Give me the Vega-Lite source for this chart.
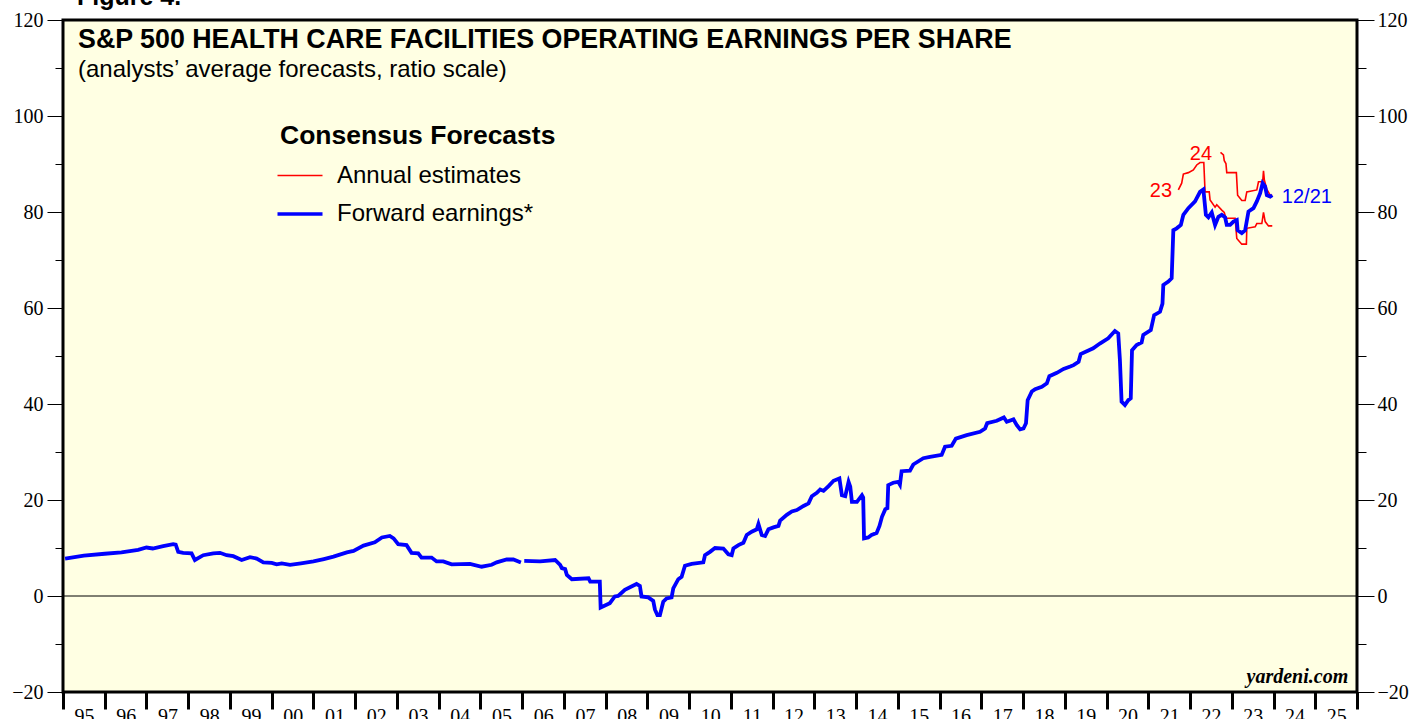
{
  "$schema": "https://vega.github.io/schema/vega-lite/v6.json",
  "width": 1294,
  "height": 672,
  "autosize": {"type": "none"},
  "padding": {"left": 63, "top": 20, "right": 57, "bottom": 27},
  "background": "white",
  "config": {
    "view": {"stroke": "black", "strokeWidth": 3, "fill": "#FFFFE3"},
    "axis": {"grid": false, "domain": false, "tickColor": "black", "labelColor": "black", "labelFont": "Liberation Serif", "labelFontSize": 20, "title": null},
    "axisX": {"values": [1995,1996,1997,1998,1999,2000,2001,2002,2003,2004,2005,2006,2007,2008,2009,2010,2011,2012,2013,2014,2015,2016,2017,2018,2019,2020,2021,2022,2023,2024,2025,2026],
      "labelExpr": "datum.value < 2026 ? format(datum.value % 100, '02d') : ''",
      "tickSize": 17, "tickWidth": 3, "labelOffset": 21, "labelPadding": -3, "labelBound": false, "labelFlush": false, "labelOverlap": false, "labelBaseline": "top"},
    "text": {"font": "Liberation Sans", "color": "black"}
  },
  "datasets": {
    "fwd": [
      {"t":1995.05,"v":7.8,"s":"Forward earnings*","g":1},{"t":1995.5,"v":8.4,"s":"Forward earnings*","g":1},{"t":1996.0,"v":8.8,"s":"Forward earnings*","g":1},{"t":1996.4,"v":9.1,"s":"Forward earnings*","g":1},{"t":1996.8,"v":9.6,"s":"Forward earnings*","g":1},{"t":1997.0,"v":10.1,"s":"Forward earnings*","g":1},{"t":1997.15,"v":9.9,"s":"Forward earnings*","g":1},{"t":1997.4,"v":10.4,"s":"Forward earnings*","g":1},{"t":1997.64,"v":10.8,"s":"Forward earnings*","g":1},{"t":1997.7,"v":10.7,"s":"Forward earnings*","g":1},{"t":1997.76,"v":9.2,"s":"Forward earnings*","g":1},{"t":1997.88,"v":9.0,"s":"Forward earnings*","g":1},{"t":1998.08,"v":8.9,"s":"Forward earnings*","g":1},{"t":1998.16,"v":7.5,"s":"Forward earnings*","g":1},{"t":1998.36,"v":8.5,"s":"Forward earnings*","g":1},{"t":1998.6,"v":8.9,"s":"Forward earnings*","g":1},{"t":1998.76,"v":9.0,"s":"Forward earnings*","g":1},{"t":1998.92,"v":8.5,"s":"Forward earnings*","g":1},{"t":1999.08,"v":8.3,"s":"Forward earnings*","g":1},{"t":1999.28,"v":7.5,"s":"Forward earnings*","g":1},{"t":1999.48,"v":8.1,"s":"Forward earnings*","g":1},{"t":1999.64,"v":7.8,"s":"Forward earnings*","g":1},{"t":1999.8,"v":7.0,"s":"Forward earnings*","g":1},{"t":2000.0,"v":6.9,"s":"Forward earnings*","g":1},{"t":2000.12,"v":6.6,"s":"Forward earnings*","g":1},{"t":2000.24,"v":6.8,"s":"Forward earnings*","g":1},{"t":2000.44,"v":6.5,"s":"Forward earnings*","g":1},{"t":2000.7,"v":6.8,"s":"Forward earnings*","g":1},{"t":2001.0,"v":7.2,"s":"Forward earnings*","g":1},{"t":2001.25,"v":7.7,"s":"Forward earnings*","g":1},{"t":2001.48,"v":8.2,"s":"Forward earnings*","g":1},{"t":2001.8,"v":9.1,"s":"Forward earnings*","g":1},{"t":2001.96,"v":9.4,"s":"Forward earnings*","g":1},{"t":2002.2,"v":10.5,"s":"Forward earnings*","g":1},{"t":2002.47,"v":11.2,"s":"Forward earnings*","g":1},{"t":2002.64,"v":12.2,"s":"Forward earnings*","g":1},{"t":2002.83,"v":12.5,"s":"Forward earnings*","g":1},{"t":2002.92,"v":12.0,"s":"Forward earnings*","g":1},{"t":2003.03,"v":10.8,"s":"Forward earnings*","g":1},{"t":2003.23,"v":10.6,"s":"Forward earnings*","g":1},{"t":2003.35,"v":9.0,"s":"Forward earnings*","g":1},{"t":2003.51,"v":8.9,"s":"Forward earnings*","g":1},{"t":2003.59,"v":8.0,"s":"Forward earnings*","g":1},{"t":2003.83,"v":8.0,"s":"Forward earnings*","g":1},{"t":2003.95,"v":7.2,"s":"Forward earnings*","g":1},{"t":2004.11,"v":7.2,"s":"Forward earnings*","g":1},{"t":2004.31,"v":6.6,"s":"Forward earnings*","g":1},{"t":2004.75,"v":6.7,"s":"Forward earnings*","g":1},{"t":2005.03,"v":6.1,"s":"Forward earnings*","g":1},{"t":2005.27,"v":6.5,"s":"Forward earnings*","g":1},{"t":2005.39,"v":7.0,"s":"Forward earnings*","g":1},{"t":2005.63,"v":7.6,"s":"Forward earnings*","g":1},{"t":2005.79,"v":7.6,"s":"Forward earnings*","g":1},{"t":2005.97,"v":7.0,"s":"Forward earnings*","g":1},
      {"t":2006.05,"v":7.3,"s":"Forward earnings*","g":2},{"t":2006.43,"v":7.2,"s":"Forward earnings*","g":2},{"t":2006.79,"v":7.5,"s":"Forward earnings*","g":2},{"t":2006.91,"v":6.5,"s":"Forward earnings*","g":2},{"t":2006.95,"v":5.8,"s":"Forward earnings*","g":2},{"t":2007.03,"v":5.6,"s":"Forward earnings*","g":2},{"t":2007.07,"v":4.4,"s":"Forward earnings*","g":2},{"t":2007.19,"v":3.5,"s":"Forward earnings*","g":2},{"t":2007.59,"v":3.7,"s":"Forward earnings*","g":2},{"t":2007.63,"v":3.0,"s":"Forward earnings*","g":2},{"t":2007.86,"v":3.0,"s":"Forward earnings*","g":2},{"t":2007.88,"v":-2.4,"s":"Forward earnings*","g":2},{"t":2008.1,"v":-1.5,"s":"Forward earnings*","g":2},{"t":2008.22,"v":-0.1,"s":"Forward earnings*","g":2},{"t":2008.3,"v":0.0,"s":"Forward earnings*","g":2},{"t":2008.46,"v":1.3,"s":"Forward earnings*","g":2},{"t":2008.74,"v":2.5,"s":"Forward earnings*","g":2},{"t":2008.82,"v":2.1,"s":"Forward earnings*","g":2},{"t":2008.86,"v":-0.1,"s":"Forward earnings*","g":2},{"t":2009.02,"v":-0.3,"s":"Forward earnings*","g":2},{"t":2009.14,"v":-1.0,"s":"Forward earnings*","g":2},{"t":2009.18,"v":-2.8,"s":"Forward earnings*","g":2},{"t":2009.24,"v":-4.0,"s":"Forward earnings*","g":2},{"t":2009.3,"v":-4.0,"s":"Forward earnings*","g":2},{"t":2009.38,"v":-1.2,"s":"Forward earnings*","g":2},{"t":2009.46,"v":-0.5,"s":"Forward earnings*","g":2},{"t":2009.58,"v":-0.3,"s":"Forward earnings*","g":2},{"t":2009.62,"v":1.6,"s":"Forward earnings*","g":2},{"t":2009.74,"v":3.5,"s":"Forward earnings*","g":2},{"t":2009.82,"v":4.0,"s":"Forward earnings*","g":2},{"t":2009.9,"v":6.3,"s":"Forward earnings*","g":2},{"t":2010.06,"v":6.7,"s":"Forward earnings*","g":2},{"t":2010.34,"v":7.0,"s":"Forward earnings*","g":2},{"t":2010.38,"v":8.5,"s":"Forward earnings*","g":2},{"t":2010.5,"v":9.2,"s":"Forward earnings*","g":2},{"t":2010.62,"v":10.0,"s":"Forward earnings*","g":2},{"t":2010.82,"v":9.9,"s":"Forward earnings*","g":2},{"t":2010.94,"v":8.7,"s":"Forward earnings*","g":2},{"t":2011.02,"v":8.5,"s":"Forward earnings*","g":2},{"t":2011.06,"v":9.9,"s":"Forward earnings*","g":2},{"t":2011.18,"v":10.6,"s":"Forward earnings*","g":2},{"t":2011.3,"v":11.1,"s":"Forward earnings*","g":2},{"t":2011.38,"v":12.7,"s":"Forward earnings*","g":2},{"t":2011.5,"v":13.4,"s":"Forward earnings*","g":2},{"t":2011.62,"v":13.9,"s":"Forward earnings*","g":2},{"t":2011.66,"v":15.0,"s":"Forward earnings*","g":2},{"t":2011.74,"v":12.7,"s":"Forward earnings*","g":2},{"t":2011.82,"v":12.5,"s":"Forward earnings*","g":2},{"t":2011.9,"v":13.9,"s":"Forward earnings*","g":2},{"t":2012.02,"v":14.3,"s":"Forward earnings*","g":2},{"t":2012.14,"v":14.6,"s":"Forward earnings*","g":2},{"t":2012.18,"v":15.7,"s":"Forward earnings*","g":2},{"t":2012.34,"v":16.9,"s":"Forward earnings*","g":2},{"t":2012.46,"v":17.6,"s":"Forward earnings*","g":2},{"t":2012.58,"v":17.9,"s":"Forward earnings*","g":2},{"t":2012.74,"v":18.75,"s":"Forward earnings*","g":2},{"t":2012.86,"v":19.3,"s":"Forward earnings*","g":2},{"t":2012.94,"v":20.8,"s":"Forward earnings*","g":2},{"t":2013.06,"v":21.5,"s":"Forward earnings*","g":2},{"t":2013.14,"v":22.2,"s":"Forward earnings*","g":2},{"t":2013.22,"v":21.9,"s":"Forward earnings*","g":2},{"t":2013.34,"v":22.9,"s":"Forward earnings*","g":2},{"t":2013.46,"v":24.0,"s":"Forward earnings*","g":2},{"t":2013.6,"v":24.5,"s":"Forward earnings*","g":2},{"t":2013.66,"v":21.0,"s":"Forward earnings*","g":2},{"t":2013.74,"v":20.8,"s":"Forward earnings*","g":2},{"t":2013.82,"v":23.8,"s":"Forward earnings*","g":2},{"t":2013.86,"v":22.8,"s":"Forward earnings*","g":2},{"t":2013.9,"v":19.6,"s":"Forward earnings*","g":2},{"t":2014.02,"v":19.6,"s":"Forward earnings*","g":2},{"t":2014.14,"v":21.0,"s":"Forward earnings*","g":2},{"t":2014.17,"v":20.5,"s":"Forward earnings*","g":2},{"t":2014.19,"v":12.0,"s":"Forward earnings*","g":2},{"t":2014.29,"v":12.2,"s":"Forward earnings*","g":2},{"t":2014.37,"v":12.7,"s":"Forward earnings*","g":2},{"t":2014.49,"v":13.1,"s":"Forward earnings*","g":2},{"t":2014.56,"v":14.6,"s":"Forward earnings*","g":2},{"t":2014.62,"v":16.5,"s":"Forward earnings*","g":2},{"t":2014.7,"v":18.1,"s":"Forward earnings*","g":2},{"t":2014.75,"v":18.3,"s":"Forward earnings*","g":2},{"t":2014.77,"v":23.1,"s":"Forward earnings*","g":2},{"t":2014.89,"v":23.6,"s":"Forward earnings*","g":2},{"t":2015.01,"v":23.8,"s":"Forward earnings*","g":2},{"t":2015.05,"v":23.2,"s":"Forward earnings*","g":2},{"t":2015.09,"v":26.0,"s":"Forward earnings*","g":2},{"t":2015.29,"v":26.1,"s":"Forward earnings*","g":2},{"t":2015.37,"v":27.4,"s":"Forward earnings*","g":2},{"t":2015.61,"v":28.7,"s":"Forward earnings*","g":2},{"t":2015.77,"v":29.0,"s":"Forward earnings*","g":2},{"t":2016.05,"v":29.4,"s":"Forward earnings*","g":2},{"t":2016.13,"v":31.1,"s":"Forward earnings*","g":2},{"t":2016.29,"v":31.3,"s":"Forward earnings*","g":2},{"t":2016.39,"v":32.8,"s":"Forward earnings*","g":2},{"t":2016.65,"v":33.5,"s":"Forward earnings*","g":2},{"t":2016.97,"v":34.2,"s":"Forward earnings*","g":2},{"t":2017.09,"v":34.9,"s":"Forward earnings*","g":2},{"t":2017.14,"v":36.0,"s":"Forward earnings*","g":2},{"t":2017.37,"v":36.5,"s":"Forward earnings*","g":2},{"t":2017.54,"v":37.2,"s":"Forward earnings*","g":2},{"t":2017.61,"v":36.3,"s":"Forward earnings*","g":2},{"t":2017.77,"v":36.8,"s":"Forward earnings*","g":2},{"t":2017.85,"v":35.6,"s":"Forward earnings*","g":2},{"t":2017.93,"v":34.7,"s":"Forward earnings*","g":2},{"t":2018.01,"v":34.9,"s":"Forward earnings*","g":2},{"t":2018.07,"v":36.0,"s":"Forward earnings*","g":2},{"t":2018.11,"v":40.8,"s":"Forward earnings*","g":2},{"t":2018.21,"v":42.6,"s":"Forward earnings*","g":2},{"t":2018.29,"v":43.1,"s":"Forward earnings*","g":2},{"t":2018.45,"v":43.6,"s":"Forward earnings*","g":2},{"t":2018.57,"v":44.3,"s":"Forward earnings*","g":2},{"t":2018.63,"v":45.8,"s":"Forward earnings*","g":2},{"t":2018.81,"v":46.5,"s":"Forward earnings*","g":2},{"t":2018.97,"v":47.3,"s":"Forward earnings*","g":2},{"t":2019.13,"v":47.8,"s":"Forward earnings*","g":2},{"t":2019.21,"v":48.1,"s":"Forward earnings*","g":2},{"t":2019.33,"v":48.8,"s":"Forward earnings*","g":2},{"t":2019.38,"v":50.4,"s":"Forward earnings*","g":2},{"t":2019.68,"v":51.6,"s":"Forward earnings*","g":2},{"t":2019.84,"v":52.6,"s":"Forward earnings*","g":2},{"t":2020.04,"v":53.7,"s":"Forward earnings*","g":2},{"t":2020.2,"v":55.2,"s":"Forward earnings*","g":2},{"t":2020.28,"v":54.7,"s":"Forward earnings*","g":2},{"t":2020.32,"v":49.2,"s":"Forward earnings*","g":2},{"t":2020.36,"v":40.5,"s":"Forward earnings*","g":2},{"t":2020.44,"v":39.8,"s":"Forward earnings*","g":2},{"t":2020.52,"v":40.8,"s":"Forward earnings*","g":2},{"t":2020.58,"v":41.2,"s":"Forward earnings*","g":2},{"t":2020.61,"v":51.2,"s":"Forward earnings*","g":2},{"t":2020.72,"v":52.3,"s":"Forward earnings*","g":2},{"t":2020.84,"v":52.8,"s":"Forward earnings*","g":2},{"t":2020.88,"v":54.4,"s":"Forward earnings*","g":2},{"t":2021.06,"v":55.4,"s":"Forward earnings*","g":2},{"t":2021.14,"v":58.5,"s":"Forward earnings*","g":2},{"t":2021.28,"v":59.2,"s":"Forward earnings*","g":2},{"t":2021.34,"v":60.9,"s":"Forward earnings*","g":2},{"t":2021.36,"v":64.8,"s":"Forward earnings*","g":2},{"t":2021.48,"v":65.5,"s":"Forward earnings*","g":2},{"t":2021.56,"v":66.2,"s":"Forward earnings*","g":2},{"t":2021.6,"v":76.2,"s":"Forward earnings*","g":2},{"t":2021.68,"v":76.6,"s":"Forward earnings*","g":2},{"t":2021.78,"v":77.3,"s":"Forward earnings*","g":2},{"t":2021.84,"v":79.4,"s":"Forward earnings*","g":2},{"t":2021.96,"v":80.8,"s":"Forward earnings*","g":2},{"t":2022.12,"v":82.2,"s":"Forward earnings*","g":2},{"t":2022.24,"v":84.2,"s":"Forward earnings*","g":2},{"t":2022.32,"v":84.7,"s":"Forward earnings*","g":2},{"t":2022.38,"v":79.4,"s":"Forward earnings*","g":2},{"t":2022.44,"v":78.9,"s":"Forward earnings*","g":2},{"t":2022.52,"v":79.9,"s":"Forward earnings*","g":2},{"t":2022.6,"v":77.3,"s":"Forward earnings*","g":2},{"t":2022.68,"v":79.0,"s":"Forward earnings*","g":2},{"t":2022.76,"v":79.4,"s":"Forward earnings*","g":2},{"t":2022.84,"v":78.9,"s":"Forward earnings*","g":2},{"t":2022.88,"v":77.3,"s":"Forward earnings*","g":2},{"t":2022.96,"v":77.3,"s":"Forward earnings*","g":2},{"t":2023.04,"v":78.0,"s":"Forward earnings*","g":2},{"t":2023.12,"v":78.3,"s":"Forward earnings*","g":2},{"t":2023.14,"v":76.2,"s":"Forward earnings*","g":2},{"t":2023.24,"v":75.6,"s":"Forward earnings*","g":2},{"t":2023.32,"v":76.2,"s":"Forward earnings*","g":2},{"t":2023.4,"v":80.1,"s":"Forward earnings*","g":2},{"t":2023.52,"v":80.8,"s":"Forward earnings*","g":2},{"t":2023.6,"v":82.2,"s":"Forward earnings*","g":2},{"t":2023.68,"v":83.9,"s":"Forward earnings*","g":2},{"t":2023.74,"v":86.0,"s":"Forward earnings*","g":2},{"t":2023.8,"v":85.3,"s":"Forward earnings*","g":2},{"t":2023.84,"v":83.5,"s":"Forward earnings*","g":2},{"t":2023.92,"v":83.2,"s":"Forward earnings*","g":2},{"t":2023.97,"v":83.5,"s":"Forward earnings*","g":2}
    ],
    "est": [
      {"t":2021.72,"v":84.6,"s":"Annual estimates","g":"23"},{"t":2021.8,"v":86.0,"s":"Annual estimates","g":"23"},{"t":2021.84,"v":87.9,"s":"Annual estimates","g":"23"},{"t":2021.96,"v":88.2,"s":"Annual estimates","g":"23"},{"t":2022.08,"v":88.75,"s":"Annual estimates","g":"23"},{"t":2022.16,"v":89.8,"s":"Annual estimates","g":"23"},{"t":2022.24,"v":90.3,"s":"Annual estimates","g":"23"},{"t":2022.33,"v":90.3,"s":"Annual estimates","g":"23"},{"t":2022.36,"v":84.2,"s":"Annual estimates","g":"23"},{"t":2022.46,"v":84.2,"s":"Annual estimates","g":"23"},{"t":2022.48,"v":82.5,"s":"Annual estimates","g":"23"},{"t":2022.6,"v":81.0,"s":"Annual estimates","g":"23"},{"t":2022.64,"v":81.5,"s":"Annual estimates","g":"23"},{"t":2022.76,"v":80.4,"s":"Annual estimates","g":"23"},{"t":2022.82,"v":79.9,"s":"Annual estimates","g":"23"},{"t":2022.86,"v":78.7,"s":"Annual estimates","g":"23"},{"t":2023.08,"v":78.7,"s":"Annual estimates","g":"23"},{"t":2023.12,"v":74.5,"s":"Annual estimates","g":"23"},{"t":2023.24,"v":73.3,"s":"Annual estimates","g":"23"},{"t":2023.35,"v":73.3,"s":"Annual estimates","g":"23"},{"t":2023.36,"v":76.6,"s":"Annual estimates","g":"23"},{"t":2023.56,"v":76.9,"s":"Annual estimates","g":"23"},{"t":2023.6,"v":77.6,"s":"Annual estimates","g":"23"},{"t":2023.72,"v":77.6,"s":"Annual estimates","g":"23"},{"t":2023.76,"v":79.9,"s":"Annual estimates","g":"23"},{"t":2023.8,"v":78.0,"s":"Annual estimates","g":"23"},{"t":2023.88,"v":77.1,"s":"Annual estimates","g":"23"},{"t":2023.97,"v":77.1,"s":"Annual estimates","g":"23"},
      {"t":2022.73,"v":92.4,"s":"Annual estimates","g":"24"},{"t":2022.8,"v":91.9,"s":"Annual estimates","g":"24"},{"t":2022.82,"v":90.7,"s":"Annual estimates","g":"24"},{"t":2022.86,"v":90.1,"s":"Annual estimates","g":"24"},{"t":2022.88,"v":88.2,"s":"Annual estimates","g":"24"},{"t":2023.11,"v":88.2,"s":"Annual estimates","g":"24"},{"t":2023.14,"v":83.5,"s":"Annual estimates","g":"24"},{"t":2023.24,"v":82.4,"s":"Annual estimates","g":"24"},{"t":2023.32,"v":82.4,"s":"Annual estimates","g":"24"},{"t":2023.36,"v":84.2,"s":"Annual estimates","g":"24"},{"t":2023.6,"v":84.6,"s":"Annual estimates","g":"24"},{"t":2023.64,"v":86.3,"s":"Annual estimates","g":"24"},{"t":2023.74,"v":86.3,"s":"Annual estimates","g":"24"},{"t":2023.76,"v":88.6,"s":"Annual estimates","g":"24"},{"t":2023.78,"v":86.7,"s":"Annual estimates","g":"24"},{"t":2023.84,"v":84.7,"s":"Annual estimates","g":"24"},{"t":2023.92,"v":83.5,"s":"Annual estimates","g":"24"},{"t":2023.97,"v":83.5,"s":"Annual estimates","g":"24"}
    ],
    "one": [{}]
  },
  "resolve": {"axis": {"y": "independent"}},
  "layer": [
    {
      "data": {"name": "one"},
      "mark": {"type": "rule", "color": "black", "strokeWidth": 1},
      "encoding": {
        "y": {"datum": 0, "type": "quantitative", "scale": {"domain": [-20, 120], "nice": false, "zero": false},
          "axis": {"orient": "right", "values": [-20,-10,0,10,20,30,40,50,60,70,80,90,100,110,120], "labelExpr": "datum.value % 20 === 0 ? format(datum.value, 'd') : ''", "tickSize": {"condition": {"test": "datum.value % 20 !== 0", "value": 9}, "value": 17}, "labelPadding": 3}}
      }
    },
    {
      "data": {"name": "est"},
      "mark": {"type": "line", "strokeWidth": 1.6, "interpolate": "linear"},
      "encoding": {
        "x": {"field": "t", "type": "quantitative", "scale": {"domain": [1995, 2026], "nice": false, "zero": false}},
        "y": {"field": "v", "type": "quantitative",
          "axis": {"orient": "left", "values": [-20,-10,0,10,20,30,40,50,60,70,80,90,100,110,120], "labelExpr": "datum.value % 20 === 0 ? format(datum.value, 'd') : ''", "tickSize": {"condition": {"test": "datum.value % 20 !== 0", "value": 8}, "value": 16}, "labelPadding": 4}},
        "color": {"field": "s", "type": "nominal",
          "scale": {"domain": ["Annual estimates", "Forward earnings*"], "range": ["#FF0000", "#0000FF"]},
          "legend": {"orient": "none", "legendX": 217, "legendY": 103, "title": "Consensus Forecasts", "titleFont": "Liberation Sans", "titleFontSize": 26.5, "titleFontWeight": "bold", "titleColor": "black", "titlePadding": 14, "titleLimit": 600,
            "labelFont": "Liberation Sans", "labelFontSize": 24, "labelColor": "black", "labelLimit": 400, "labelOffset": 25,
            "symbolType": "stroke", "symbolSize": 2025, "symbolStrokeWidth": 3, "symbolOffset": 8, "rowPadding": 14.5, "padding": 0,
            "encode": {"symbols": {"update": {"strokeWidth": {"signal": "datum.value === 'Forward earnings*' ? 3.5 : 1.5"}}}}}},
        "detail": {"field": "g", "type": "nominal"}
      }
    },
    {
      "data": {"name": "fwd"},
      "mark": {"type": "line", "strokeWidth": 3.8, "interpolate": "linear"},
      "encoding": {
        "x": {"field": "t", "type": "quantitative"},
        "y": {"field": "v", "type": "quantitative", "axis": null},
        "color": {"field": "s", "type": "nominal"},
        "detail": {"field": "g", "type": "nominal"}
      }
    },
    {
      "data": {"name": "one"},
      "mark": {"type": "text", "fontSize": 25, "fontWeight": "bold", "align": "left", "baseline": "alphabetic"},
      "encoding": {"x": {"datum": 1995.335, "type": "quantitative"}, "y": {"datum": 123.1, "type": "quantitative", "axis": null}, "text": {"value": "Figure 4."}}
    },
    {
      "data": {"name": "one"},
      "mark": {"type": "text", "fontSize": 26.8, "fontWeight": "bold", "align": "left", "baseline": "alphabetic"},
      "encoding": {"x": {"datum": 1995.36, "type": "quantitative"}, "y": {"datum": 114.2, "type": "quantitative", "axis": null}, "text": {"value": "S&P 500 HEALTH CARE FACILITIES OPERATING EARNINGS PER SHARE"}}
    },
    {
      "data": {"name": "one"},
      "mark": {"type": "text", "fontSize": 24, "align": "left", "baseline": "alphabetic"},
      "encoding": {"x": {"datum": 1995.36, "type": "quantitative"}, "y": {"datum": 108.1, "type": "quantitative", "axis": null}, "text": {"value": "(analysts’ average forecasts, ratio scale)"}}
    },
    {
      "data": {"name": "one"},
      "mark": {"type": "text", "fontSize": 20, "color": "#FF0000", "align": "right", "baseline": "alphabetic"},
      "encoding": {"x": {"datum": 2021.57, "type": "quantitative"}, "y": {"datum": 83.1, "type": "quantitative", "axis": null}, "text": {"value": "23"}}
    },
    {
      "data": {"name": "one"},
      "mark": {"type": "text", "fontSize": 20, "color": "#FF0000", "align": "center", "baseline": "alphabetic"},
      "encoding": {"x": {"datum": 2022.26, "type": "quantitative"}, "y": {"datum": 90.8, "type": "quantitative", "axis": null}, "text": {"value": "24"}}
    },
    {
      "data": {"name": "one"},
      "mark": {"type": "text", "fontSize": 20, "color": "#0000FF", "align": "left", "baseline": "alphabetic"},
      "encoding": {"x": {"datum": 2024.2, "type": "quantitative"}, "y": {"datum": 81.9, "type": "quantitative", "axis": null}, "text": {"value": "12/21"}}
    },
    {
      "data": {"name": "one"},
      "mark": {"type": "text", "font": "Liberation Serif", "fontSize": 20, "fontWeight": "bold", "fontStyle": "italic", "align": "right", "baseline": "alphabetic"},
      "encoding": {"x": {"datum": 2025.79, "type": "quantitative"}, "y": {"datum": -18.2, "type": "quantitative", "axis": null}, "text": {"value": "yardeni.com"}}
    }
  ]
}
